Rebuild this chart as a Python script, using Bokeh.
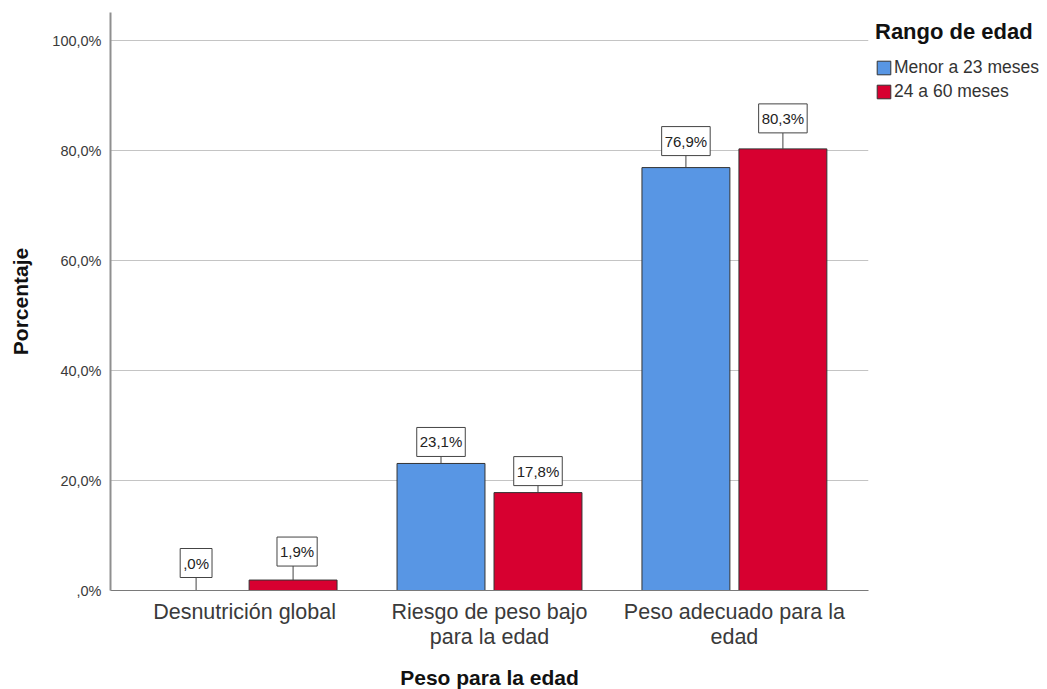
from bokeh.plotting import figure
from bokeh.models import (FactorRange, Range1d, FixedTicker, Legend, LegendItem,
                          ColumnDataSource)
from bokeh.transform import dodge
from bokeh.core.properties import value
from bokeh.embed import file_html
from bokeh.resources import INLINE

# ---------------- data ----------------
categories = ["Desnutrición global",
              "Riesgo de peso bajo\npara la edad",
              "Peso adecuado para la\nedad"]
series_names = ["Menor a 23 meses", "24 a 60 meses"]
menor_23 = [0.0, 23.1, 76.9]
de_24_60 = [1.9, 17.8, 80.3]
y_ticks = [0, 20, 40, 60, 80, 100]
y_tick_labels = [",0%", "20,0%", "40,0%", "60,0%", "80,0%", "100,0%"]
x_title = "Peso para la edad"
y_title = "Porcentaje"
legend_title = "Rango de edad"

# ---------------- style ----------------
FONT = "Liberation Sans"
BLUE = "#5896e4"
RED = "#d70030"
OUTLINE = "#333333"
FRAME_W, FRAME_H = 758, 578
Y_END = 105.1
X_PAD = 0.0475
OFF = 0.198
BW = 0.359
gap_a_px = [15, 9, 14]   # leader length (px) for labels of first series
gap_b_px = [16, 9, 18]   # leader length (px) for labels of second series
shift_a_px = [0, 0, 0]   # horizontal shift (px) of label boxes, first series
shift_b_px = [4, 0, 0]   # horizontal shift (px) of label boxes, second series
BOX_HALF = 12.5
units_per_px = Y_END / FRAME_H


def fmt(v):
    s = f"{v:.1f}".replace(".", ",")
    if s.startswith("0,"):
        s = s[1:]
    return s + "%"


src = ColumnDataSource(dict(
    cat=categories,
    a=menor_23,
    b=de_24_60,
    a_lbl=[fmt(v) for v in menor_23],
    b_lbl=[fmt(v) for v in de_24_60],
    a_top=[v + g * units_per_px for v, g in zip(menor_23, gap_a_px)],
    b_top=[v + g * units_per_px for v, g in zip(de_24_60, gap_b_px)],
    a_off=[-(g + BOX_HALF) for g in gap_a_px],
    b_off=[-(g + BOX_HALF) for g in gap_b_px],
    a_xs=shift_a_px,
    b_xs=shift_b_px,
))

p = figure(x_range=FactorRange(factors=categories, range_padding=X_PAD,
                               range_padding_units="absolute"),
           y_range=Range1d(0, Y_END),
           frame_width=FRAME_W, frame_height=FRAME_H,
           min_border_left=110, min_border_right=179,
           min_border_top=12, min_border_bottom=99,
           output_backend="svg", toolbar_location=None)
p.outline_line_color = None
p.background_fill_color = "white"

# grid
p.xgrid.grid_line_color = None
p.ygrid.ticker = FixedTicker(ticks=y_ticks)
p.ygrid.grid_line_color = "#c4c4c4"
p.ygrid.grid_line_width = 1.2

# y axis
p.yaxis.ticker = FixedTicker(ticks=y_ticks)
p.yaxis.major_label_overrides = {t: l for t, l in zip(y_ticks, y_tick_labels)}
p.yaxis.axis_line_color = "#8f8f8f"
p.yaxis.axis_line_width = 2
p.yaxis.major_tick_line_color = None
p.yaxis.minor_tick_line_color = None
p.yaxis.major_tick_out = 0
p.yaxis.major_label_standoff = 9
p.yaxis.major_label_text_font = FONT
p.yaxis.major_label_text_font_size = "14.5px"
p.yaxis.major_label_text_color = "#3a3a3a"
p.yaxis.axis_label = y_title
p.yaxis.axis_label_text_font = FONT
p.yaxis.axis_label_text_font_size = "21px"
p.yaxis.axis_label_text_font_style = "bold"
p.yaxis.axis_label_text_color = "#111111"
p.yaxis.axis_label_standoff = 17

# x axis
p.xaxis.axis_line_color = "#7a7a7a"
p.xaxis.axis_line_width = 1.2
p.xaxis.major_tick_line_color = None
p.xaxis.minor_tick_line_color = None
p.xaxis.major_tick_out = 0
p.xaxis.major_label_standoff = 9
p.xaxis.major_label_text_font = FONT
p.xaxis.major_label_text_font_size = "21.5px"
p.xaxis.major_label_text_color = "#3a3a3a"
p.xaxis.major_label_text_line_height = 1.05
p.xaxis.axis_label = x_title
p.xaxis.axis_label_text_font = FONT
p.xaxis.axis_label_text_font_size = "21px"
p.xaxis.axis_label_text_font_style = "bold"
p.xaxis.axis_label_text_color = "#111111"
p.xaxis.axis_label_standoff = 14

# bars
r1 = p.vbar(x=dodge("cat", -OFF, range=p.x_range), top="a", width=BW, source=src,
            fill_color=BLUE, line_color=OUTLINE, line_width=1)
r2 = p.vbar(x=dodge("cat", OFF, range=p.x_range), top="b", width=BW, source=src,
            fill_color=RED, line_color=OUTLINE, line_width=1)

# leader lines from bar top to the label box
for key, top, off in (("a", "a_top", -OFF), ("b", "b_top", OFF)):
    p.segment(x0=dodge("cat", off, range=p.x_range), y0=key,
              x1=dodge("cat", off, range=p.x_range), y1=top,
              source=src, line_color="#444444", line_width=1)

# value labels in boxes
for lbl, key, yoff, xoff, off in (("a_lbl", "a", "a_off", "a_xs", -OFF),
                                  ("b_lbl", "b", "b_off", "b_xs", OFF)):
    p.text(x=dodge("cat", off, range=p.x_range), y=key, text=lbl,
           y_offset=yoff, x_offset=xoff,
           source=src, text_align="center", text_baseline="middle",
           text_font=value(FONT), text_font_size="15px", text_color="#222222",
           background_fill_color="white", border_line_color="#444444",
           border_line_width=1, padding=dict(left=3, right=3, top=6, bottom=6))

legend = Legend(items=[LegendItem(label=series_names[0], renderers=[r1]),
                       LegendItem(label=series_names[1], renderers=[r2])],
                title=legend_title, location="top_left", orientation="vertical",
                margin=7, padding=0, spacing=3,
                glyph_width=17, glyph_height=17, label_height=20,
                label_standoff=2, title_standoff=12,
                border_line_color=None, background_fill_alpha=0,
                label_text_font=FONT, label_text_font_size="17.5px",
                label_text_color="#333333",
                title_text_font=FONT, title_text_font_size="22px",
                title_text_font_style="bold", title_text_color="#111111")
p.add_layout(legend, "right")

open("out.html", "w").write(file_html(p, INLINE))
